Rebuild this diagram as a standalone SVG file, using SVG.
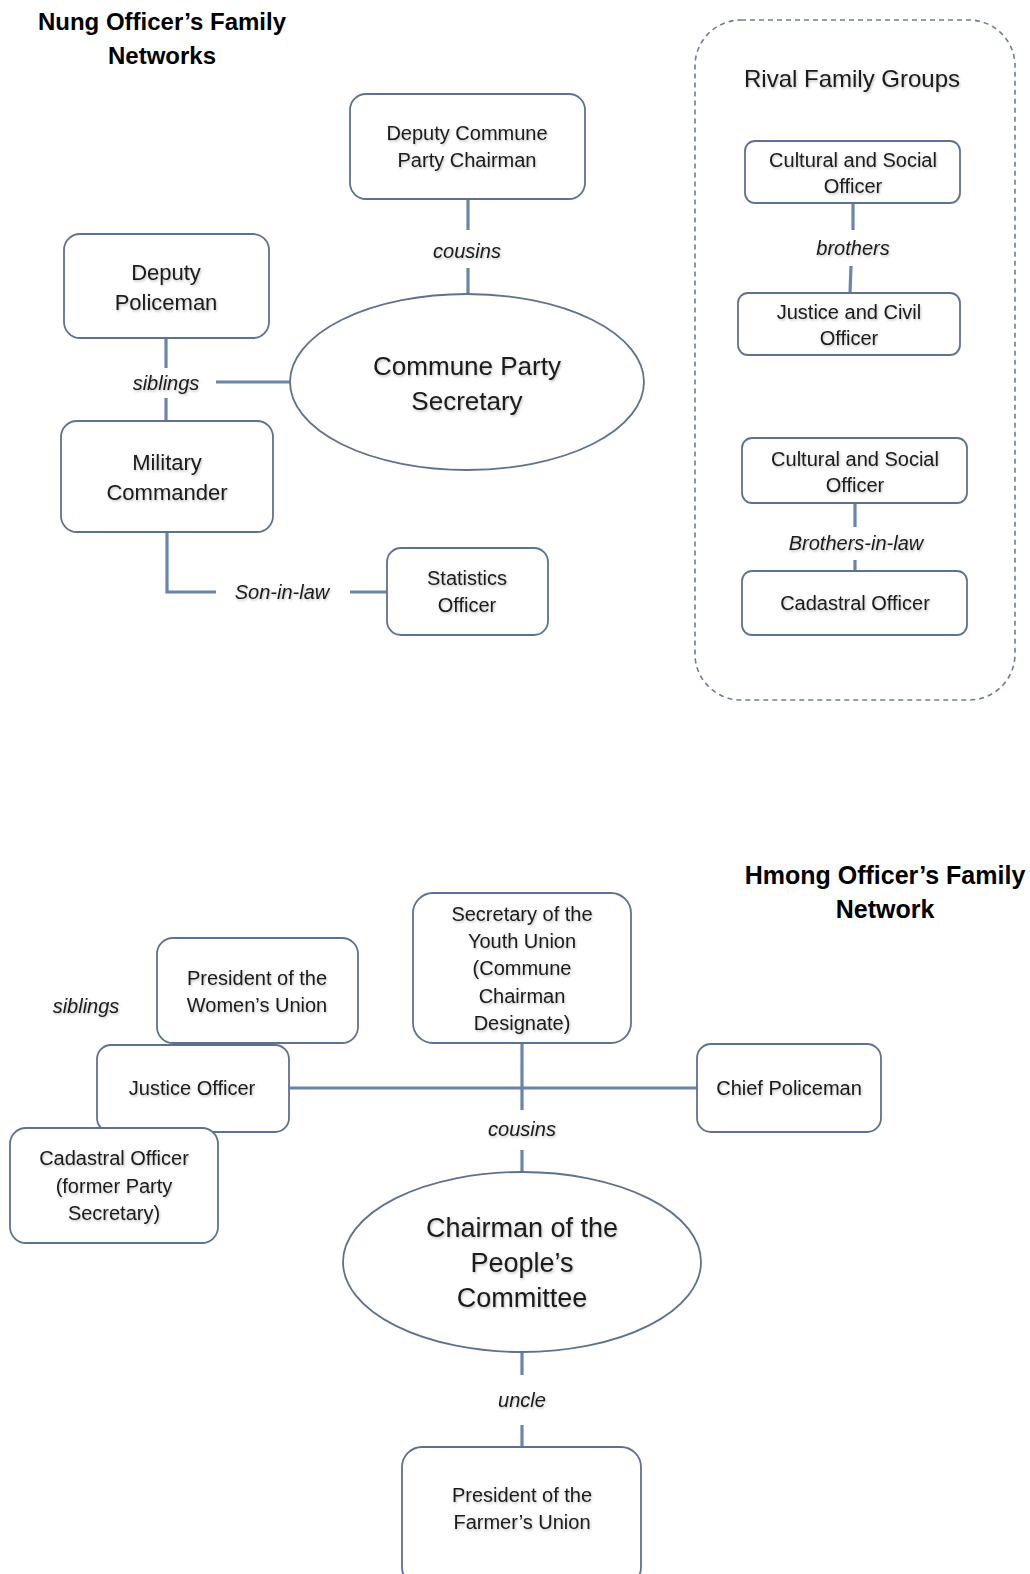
<svg xmlns="http://www.w3.org/2000/svg" width="1030" height="1574" viewBox="0 0 1030 1574">
<defs>
<filter id="sh" x="-10%" y="-30%" width="120%" height="160%">
<feDropShadow dx="1" dy="1.5" stdDeviation="1.2" flood-color="#000000" flood-opacity="0.25"/>
</filter>
</defs>
<style>
.bg{fill:#ffffff}
.box{fill:#ffffff;stroke:#5f7192;stroke-width:1.8}
.grp{fill:none;stroke:#6c7d9a;stroke-width:1.6;stroke-dasharray:5 4}
.ln{fill:none;stroke:#6a84aa;stroke-width:3.2}
.t{font-family:"Liberation Sans",Arial,sans-serif;font-size:20px;fill:#1a1a1a;text-anchor:middle;filter:url(#sh)}
.lbl{font-family:"Liberation Sans",Arial,sans-serif;font-size:20px;font-style:italic;fill:#1a1a1a;text-anchor:middle;filter:url(#sh)}
.big{font-size:26px}
.title{font-family:"Liberation Sans",Arial,sans-serif;font-size:24px;font-weight:bold;fill:#000;text-anchor:middle}
</style>
<rect class="bg" x="0" y="0" width="1030" height="1574"/>

<g id="titles">
<text class="title" x="162" y="30">Nung Officer’s Family</text>
<text class="title" x="162" y="64">Networks</text>
<text class="title" style="font-size:25px" x="885" y="884">Hmong Officer’s Family</text>
<text class="title" style="font-size:25px" x="885" y="918">Network</text>
</g>

<g id="connectors">
<line class="ln" x1="468" y1="199" x2="468" y2="230"/>
<line class="ln" x1="468" y1="268" x2="468" y2="296"/>
<line class="ln" x1="166" y1="338" x2="166" y2="368"/>
<line class="ln" x1="166" y1="398" x2="166" y2="421"/>
<line class="ln" x1="216" y1="382" x2="291" y2="382"/>
<polyline class="ln" points="167,532 167,592 216,592"/>
<line class="ln" x1="350" y1="592" x2="388" y2="592"/>
<line class="ln" x1="853" y1="203" x2="853" y2="230"/>
<line class="ln" x1="851" y1="266" x2="850" y2="293"/>
<line class="ln" x1="855" y1="503" x2="855" y2="527"/>
<line class="ln" x1="855" y1="560" x2="855" y2="571"/>
<line class="ln" x1="289" y1="1088" x2="697" y2="1088"/>
<line class="ln" x1="522" y1="1043" x2="522" y2="1110"/>
<line class="ln" x1="522" y1="1150" x2="522" y2="1173"/>
<line class="ln" x1="522" y1="1352" x2="522" y2="1375"/>
<line class="ln" x1="522" y1="1425" x2="522" y2="1447"/>
</g>

<g id="connector-labels">
<text class="lbl" x="467" y="258">cousins</text>
<text class="lbl" x="166" y="390">siblings</text>
<text class="lbl" x="282" y="599">Son-in-law</text>
<text class="lbl" x="853" y="255">brothers</text>
<text class="lbl" x="856" y="550">Brothers-in-law</text>
<text class="lbl" x="86" y="1013">siblings</text>
<text class="lbl" x="522" y="1136">cousins</text>
<text class="lbl" x="522" y="1407">uncle</text>
</g>

<g id="deputy-commune-party-chairman">
<rect class="box" x="350" y="94" width="235" height="105" rx="16"/>
<text class="t" x="467" y="140">Deputy Commune</text>
<text class="t" x="467" y="167">Party Chairman</text>
</g>

<g id="commune-party-secretary">
<ellipse class="box" cx="467" cy="382" rx="177" ry="88"/>
<text class="t big" x="467" y="375">Commune Party</text>
<text class="t big" x="467" y="410">Secretary</text>
</g>

<g id="deputy-policeman">
<rect class="box" x="64" y="234" width="205" height="104" rx="16"/>
<text class="t" style="font-size:22px" x="166" y="280">Deputy</text>
<text class="t" style="font-size:22px" x="166" y="310">Policeman</text>
</g>

<g id="military-commander">
<rect class="box" x="61" y="421" width="212" height="111" rx="16"/>
<text class="t" style="font-size:22px" x="167" y="470">Military</text>
<text class="t" style="font-size:22px" x="167" y="500">Commander</text>
</g>

<g id="statistics-officer">
<rect class="box" x="387" y="548" width="161" height="87" rx="14"/>
<text class="t" x="467" y="585">Statistics</text>
<text class="t" x="467" y="612">Officer</text>
</g>

<g id="rival-family-groups">
<rect class="grp" x="695" y="20" width="320" height="680" rx="46"/>
<text class="t" style="font-size:24px" x="852" y="87">Rival Family Groups</text>
</g>

<g id="cultural-social-officer-1">
<rect class="box" x="745" y="141" width="215" height="62" rx="10"/>
<text class="t" x="853" y="167">Cultural and Social</text>
<text class="t" x="853" y="193">Officer</text>
</g>

<g id="justice-civil-officer">
<rect class="box" x="738" y="293" width="222" height="62" rx="10"/>
<text class="t" x="849" y="319">Justice and Civil</text>
<text class="t" x="849" y="345">Officer</text>
</g>

<g id="cultural-social-officer-2">
<rect class="box" x="742" y="438" width="225" height="65" rx="10"/>
<text class="t" x="855" y="466">Cultural and Social</text>
<text class="t" x="855" y="492">Officer</text>
</g>

<g id="cadastral-officer">
<rect class="box" x="742" y="571" width="225" height="64" rx="10"/>
<text class="t" x="855" y="610">Cadastral Officer</text>
</g>

<g id="secretary-youth-union">
<rect class="box" x="413" y="893" width="218" height="150" rx="20"/>
<text class="t" x="522" y="921">Secretary of the</text>
<text class="t" x="522" y="948">Youth Union</text>
<text class="t" x="522" y="975">(Commune</text>
<text class="t" x="522" y="1003">Chairman</text>
<text class="t" x="522" y="1030">Designate)</text>
</g>

<g id="president-womens-union">
<rect class="box" x="157" y="938" width="201" height="105" rx="16"/>
<text class="t" x="257" y="985">President of the</text>
<text class="t" x="257" y="1012">Women’s Union</text>
</g>

<g id="justice-officer">
<rect class="box" x="97" y="1045" width="192" height="87" rx="14"/>
<text class="t" x="192" y="1095">Justice Officer</text>
</g>

<g id="chief-policeman">
<rect class="box" x="697" y="1044" width="184" height="88" rx="14"/>
<text class="t" x="789" y="1095">Chief Policeman</text>
</g>

<g id="cadastral-officer-former">
<rect class="box" x="10" y="1128" width="208" height="115" rx="16"/>
<text class="t" x="114" y="1165">Cadastral Officer</text>
<text class="t" x="114" y="1193">(former Party</text>
<text class="t" x="114" y="1220">Secretary)</text>
</g>

<g id="chairman-peoples-committee">
<ellipse class="box" cx="522" cy="1262" rx="179" ry="90"/>
<text class="t big" style="font-size:27px" x="522" y="1237">Chairman of the</text>
<text class="t big" style="font-size:27px" x="522" y="1272">People’s</text>
<text class="t big" style="font-size:27px" x="522" y="1307">Committee</text>
</g>

<g id="president-farmers-union">
<rect class="box" x="402" y="1447" width="239" height="140" rx="20"/>
<text class="t" x="522" y="1502">President of the</text>
<text class="t" x="522" y="1529">Farmer’s Union</text>
</g>
</svg>
